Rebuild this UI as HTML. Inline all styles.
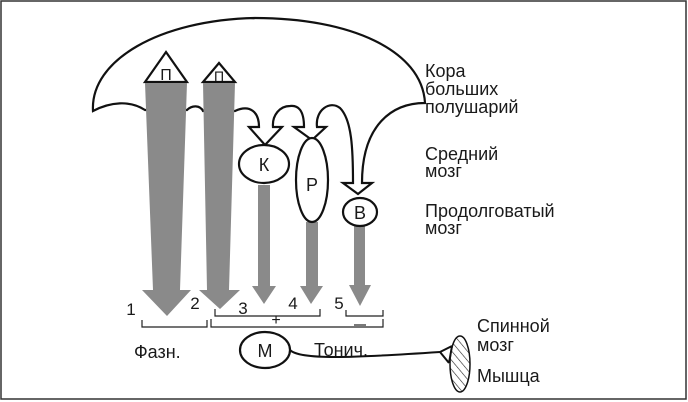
<!DOCTYPE html>
<html><head><meta charset="utf-8"><style>
html,body{margin:0;padding:0;background:#fff;}
svg{display:block;}
text{font-family:"Liberation Sans",Arial,sans-serif;fill:#1a1a1a;}
</style></head><body>
<svg width="688" height="402" viewBox="0 0 688 402" xmlns="http://www.w3.org/2000/svg">
<defs>
<pattern id="h" width="6" height="6" patternUnits="userSpaceOnUse" patternTransform="rotate(-40)">
<line x1="0" y1="0" x2="0" y2="6" stroke="#222" stroke-width="1.2"/>
</pattern>
</defs>
<rect x="1" y="1" width="685" height="398" fill="none" stroke="#333" stroke-width="1.5"/>

<path d="M93,111 C90,60 160,20 255,18 C350,18 422,50 425,103 C392,103 362,125 362,183 L372,183 L358,194 L343,183 L353,183 C353,150 352,120 340,108 C330,100 315,110 317,127 L326,127 L312,140 L294,127 L304,127 C304,110 298,105 290,106 C280,106 272,115 273,127 L282,127 L265,145 L249,127 L259,127 C259,112 250,104 235,111 L203,111 C200,105 192,105 187,110 L145,110 C130,100 110,102 93,111 Z" fill="#fff" stroke="#111" stroke-width="2.2" stroke-linejoin="miter"/>

<path d="M166,52 L187,82 L145,82 Z" fill="#fff" stroke="#111" stroke-width="2.2"/>
<text x="166" y="80" font-size="16" text-anchor="middle">П</text>
<path d="M219,63 L235,82 L203,82 Z" fill="#fff" stroke="#111" stroke-width="2.2"/>
<text x="219" y="81" font-size="14" text-anchor="middle">П</text>

<g fill="#8a8a8a">
<path d="M145,83 L187,83 L180,290 L191,290 L167,316 L142,290 L153,290 Z"/>
<path d="M203,83 L235,83 L229,290 L240,290 L220,309 L199,290 L207,290 Z"/>
<path d="M258,185 L270,185 L270,286 L276,286 L264,304 L252,286 L258,286 Z"/>
<path d="M306,222 L318,222 L318,286 L323,286 L311,304 L300,286 L306,286 Z"/>
<path d="M354,226 L365,226 L365,285 L371,285 L360,306 L349,285 L354,285 Z"/>
</g>

<ellipse cx="264" cy="164" rx="25" ry="19" fill="#fff" stroke="#111" stroke-width="2.2"/>
<text x="264" y="171" font-size="18" text-anchor="middle">К</text>
<ellipse cx="312" cy="180" rx="16" ry="42" fill="#fff" stroke="#111" stroke-width="2.2"/>
<text x="312" y="191" font-size="18" text-anchor="middle">Р</text>
<ellipse cx="360" cy="212" rx="17" ry="14" fill="#fff" stroke="#111" stroke-width="2.2"/>
<text x="360" y="219" font-size="18" text-anchor="middle">В</text>

<g font-size="17">
<text x="131" y="315" text-anchor="middle">1</text>
<text x="195" y="309" text-anchor="middle">2</text>
<text x="243" y="314" text-anchor="middle">3</text>
<text x="293" y="309" text-anchor="middle">4</text>
<text x="339" y="309" text-anchor="middle">5</text>
</g>
<g fill="none" stroke="#222" stroke-width="1.2">
<path d="M142,320 L142,327 L207,327 L207,320"/>
<path d="M211,319 L211,327 L383,327 L383,319"/>
<path d="M215,309 L215,316 L320,316 L320,309"/>
<path d="M346,310 L346,316 L383,316 L383,310"/>
</g>
<text x="276" y="325" font-size="16" text-anchor="middle">+</text>
<line x1="354" y1="325" x2="366" y2="325" stroke="#222" stroke-width="1.2"/>

<text x="134" y="358" font-size="18">Фазн.</text>
<ellipse cx="265" cy="350" rx="25" ry="18" fill="#fff" stroke="#111" stroke-width="2.2"/>
<text x="265" y="357" font-size="18" text-anchor="middle">М</text>
<text x="341" y="356" font-size="18" text-anchor="middle">Тонич.</text>
<path d="M290,350 C300,360 350,358 440,352" fill="none" stroke="#111" stroke-width="2"/>
<path d="M440,352 L452,346 M440,352 L449,363 M452,346 L449,363" fill="none" stroke="#111" stroke-width="2"/>
<ellipse cx="460" cy="364" rx="10" ry="28" fill="url(#h)" stroke="#111" stroke-width="1.5"/>

<g font-size="18">
<text x="477" y="332">Спинной</text>
<text x="477" y="351">мозг</text>
<text x="477" y="382">Мышца</text>
<text x="425" y="77">Кора</text>
<text x="425" y="95">больших</text>
<text x="425" y="113">полушарий</text>
<text x="425" y="160">Средний</text>
<text x="425" y="177">мозг</text>
<text x="425" y="217">Продолговатый</text>
<text x="425" y="234">мозг</text>
</g>
</svg>
</body></html>
